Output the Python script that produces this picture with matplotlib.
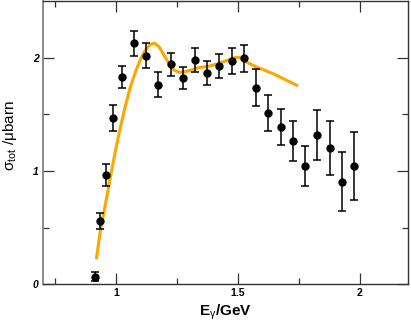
import matplotlib
matplotlib.use("Agg")
import matplotlib.pyplot as plt
from matplotlib.ticker import FixedLocator

plt.rcParams['font.family'] = ['Liberation Sans', 'DejaVu Sans']
plt.rcParams['mathtext.fontset'] = 'custom'
plt.rcParams['mathtext.rm'] = 'Liberation Sans'
plt.rcParams['mathtext.it'] = 'Liberation Sans:italic'
plt.rcParams['mathtext.bf'] = 'Liberation Sans:bold'

# data points
energy = [0.914, 0.934, 0.960, 0.988, 1.025, 1.074, 1.124, 1.175, 1.226, 1.275,
          1.326, 1.375, 1.425, 1.476, 1.527, 1.576, 1.625, 1.676, 1.726, 1.776,
          1.826, 1.877, 1.926, 1.977]
sigma = [0.068, 0.56, 0.965, 1.468, 1.83, 2.126, 2.018, 1.76, 1.94, 1.82,
         1.976, 1.868, 1.926, 1.97, 1.994, 1.735, 1.509, 1.39, 1.262, 1.047,
         1.32, 1.203, 0.906, 1.04]
sigma_err = [0.04, 0.07, 0.095, 0.115, 0.10, 0.11, 0.11, 0.11, 0.105, 0.10,
             0.105, 0.105, 0.107, 0.117, 0.122, 0.163, 0.16, 0.16, 0.176, 0.176,
             0.22, 0.24, 0.26, 0.30]

# model curve
curve_e = [0.920, 0.937, 0.958, 0.978, 0.999, 1.019, 1.040, 1.060, 1.081, 1.101,
           1.122, 1.142, 1.159, 1.177, 1.197, 1.218, 1.238, 1.265, 1.300, 1.341,
           1.389, 1.443, 1.491, 1.512, 1.532, 1.580, 1.648, 1.748]
curve_s = [0.22, 0.479, 0.715, 0.95, 1.185, 1.39, 1.58, 1.744, 1.876, 1.986,
           2.068, 2.118, 2.127, 2.097, 2.024, 1.95, 1.891, 1.868, 1.885, 1.912,
           1.927, 1.965, 2.003, 2.0, 1.965, 1.915, 1.856, 1.75]

x_major = [1, 1.5, 2]
x_minor = [0.75, 1.25, 1.75]
x_labels = ['1', '1.5', '2']
y_major = [0, 1, 2]
y_minor = [0.5, 1.5]
y_labels = ['0', '1', '2']

fig = plt.figure(figsize=(4.11, 3.29), dpi=100)
ax = fig.add_axes([0.1039, 0.1359, 0.8895, 0.8611])

ax.plot(curve_e, curve_s, color='#FFA500', lw=2.2, zorder=3, solid_capstyle='butt')
ax.errorbar(energy, sigma, yerr=sigma_err, fmt='o', color='black', ms=5,
            elinewidth=1.1, capsize=2.6, capthick=1.1, zorder=4)

ax.set_xlim(0.7, 2.2)
ax.set_ylim(0, 2.5)
ax.xaxis.set_major_locator(FixedLocator(x_major))
ax.xaxis.set_minor_locator(FixedLocator(x_minor))
ax.yaxis.set_major_locator(FixedLocator(y_major))
ax.yaxis.set_minor_locator(FixedLocator(y_minor))
ax.set_xticklabels(x_labels, fontsize=7.5, fontweight='bold')
ax.set_yticklabels(y_labels, fontsize=7.5, fontweight='bold', fontstyle='italic')

ax.tick_params(which='both', direction='in', top=True, right=True, color='#333333')
ax.tick_params(which='major', length=8, width=0.9, pad=3)
ax.tick_params(which='minor', length=4.5, width=0.9)

for side in ['top', 'bottom', 'right']:
    ax.spines[side].set_color('#333333')
    ax.spines[side].set_linewidth(1.0)
ax.spines['left'].set_color('#777777')
ax.spines['left'].set_linewidth(1.2)

ax.set_xlabel(r'E$_{\mathrm{γ}}$/GeV', fontsize=11, fontweight='bold', labelpad=3)
ax.set_ylabel(r'σ$_{\mathrm{tot}}$ /μbarn', fontsize=11)
ax.yaxis.set_label_coords(-0.066, 0.525)

fig.savefig('out.png', dpi=100)
